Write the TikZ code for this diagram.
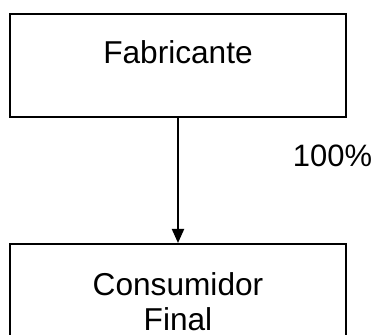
\documentclass[tikz,border=0pt]{standalone}
\usepackage{fontspec}
\setmainfont{Liberation Sans}
\usetikzlibrary{arrows.meta}
\tikzset{caja/.style = {draw, line width=1.1pt, minimum width=6.72cm, inner sep=0pt, align=center, font=\fontsize{18}{19.9}\selectfont}}

\begin{document}
\begin{tikzpicture}
	\useasboundingbox (0cm,0cm) rectangle (7.5cm,-6.7cm);
	\clip (0cm,0cm) rectangle (7.5cm,-6.7cm);
	\node [caja, anchor=north, text height=1.0cm, text depth=1.06cm] (fabricante) at (3.56cm,-0.26cm) {Fabricante};
	\node [caja, anchor=north, text height=1.74cm, text depth=1.2cm] (consumidor) at (3.56cm,-4.86cm) {Consumidor\\Final};
	\draw [-{Triangle[length=0.28cm,width=0.24cm]}, line width=1.1pt] (fabricante) -- node[pos=0.386, anchor=base west, xshift=2.28cm, inner sep=0pt, font=\fontsize{17.6}{19.9}\selectfont] (porcentaje) {100\%} (consumidor);
\end{tikzpicture}
\end{document}
